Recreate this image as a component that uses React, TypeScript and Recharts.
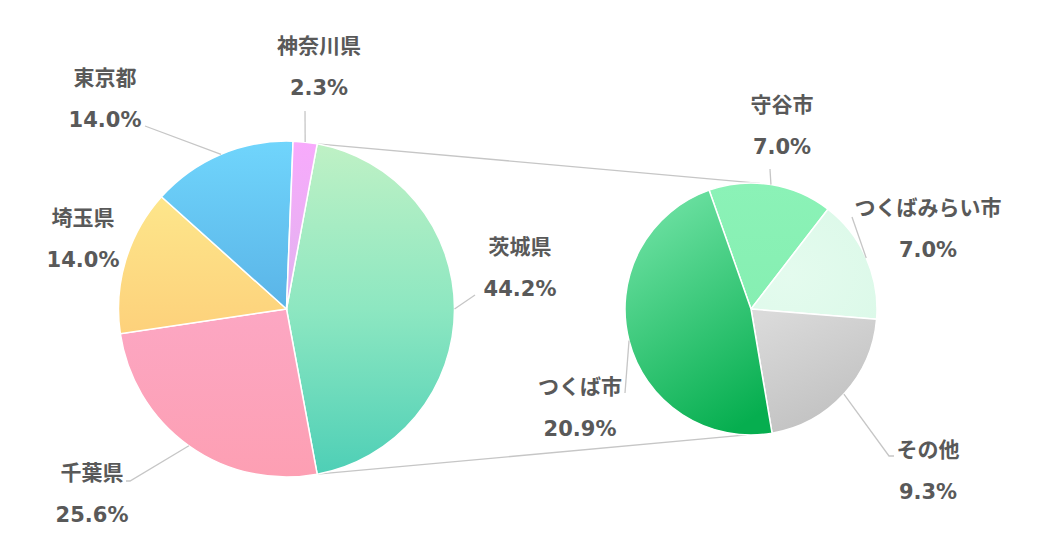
import React from 'react';
import { PieChart, Pie, Cell } from 'recharts';

// ---- data ----
const mainNames = ['茨城県', '千葉県', '埼玉県', '東京都', '神奈川県'];
const mainValues = [44.2, 25.6, 14.0, 14.0, 2.3];
const subNames = ['守谷市', 'つくばみらい市', 'その他', 'つくば市'];
const subValues = [7.0, 7.0, 9.3, 20.9];

const mainData = mainNames.map((name, i) => ({ name, value: mainValues[i] }));
const subData = subNames.map((name, i) => ({ name, value: subValues[i] }));

// ---- layout / style ----
const W = 1039;
const H = 560;
const MAIN = { cx: 286.5, cy: 309, r: 168 };
const SUB = { cx: 751, cy: 309, r: 126 };
const mainTotal = mainValues.reduce((a, b) => a + b, 0);
const mainStart = (180 * mainValues[0]) / mainTotal; // first slice centred toward the secondary pie
const subStart = 109.4;
const TEXT = '#595959';
const LINE = '#c6c6c6';
const FONT = "'DejaVu Sans', 'Noto Sans CJK JP', sans-serif";
const FS = 21;
const PCT_GAP = 42;

const mainFills = ['url(#gIbaraki)', 'url(#gChiba)', 'url(#gSaitama)', 'url(#gTokyo)', 'url(#gKanagawa)'];
const subFills = ['url(#gMoriya)', 'url(#gMirai)', 'url(#gOther)', 'url(#gTsukuba)'];

// label placement relative to each pie centre: text centre (tx, ty), leader end (lx, ly)
const mainLabelLayout = [
  { tx: 233.5, ty: -62, lx: 188.5, ly: -14 },
  { tx: -194.5, ty: 164, lx: -156.5, ly: 172, tail: -4 },
  { tx: -203.5, ty: -91, lx: null, ly: null },
  { tx: -181.5, ty: -231, lx: -141.5, ly: -183 },
  { tx: 32.5, ty: -263, lx: 18.5, ly: -198 },
];
const subLabelLayout = [
  { tx: 31, ty: -204, lx: 19, ly: -140 },
  { tx: 177, ty: -101, lx: 101, ly: -92 },
  { tx: 177, ty: 141, lx: 138, ly: 147, tail: 5 },
  { tx: -171, ty: 78, lx: -126, ly: 84 },
];

const RAD = Math.PI / 180;
const polar = (cx: number, cy: number, r: number, a: number) => ({
  x: cx + Math.cos(-a * RAD) * r,
  y: cy + Math.sin(-a * RAD) * r,
});

const makeLabel = (center: { cx: number; cy: number; r: number }, layout: any[], values: number[], names: string[]) =>
  (props: any) => {
    const { index, midAngle } = props;
    const l = layout[index];
    const tx = center.cx + l.tx;
    const ty = center.cy + l.ty;
    let path = null;
    if (l.lx !== null) {
      const p = polar(center.cx, center.cy, center.r, midAngle);
      const ex = center.cx + l.lx;
      const ey = center.cy + l.ly;
      let d = `M${p.x},${p.y}L${ex},${ey}`;
      if (l.tail) d += `L${ex + l.tail},${ey}`;
      path = <path d={d} stroke={LINE} strokeWidth={1.3} fill="none" />;
    }
    return (
      <g key={`lbl-${index}`}>
        {path}
        <text x={tx} y={ty} textAnchor="middle" dominantBaseline="central" fill={TEXT}
          fontFamily={FONT} fontWeight="bold" fontSize={FS}>{names[index]}</text>
        <text x={tx} y={ty + PCT_GAP} textAnchor="middle" dominantBaseline="central" fill={TEXT}
          fontFamily={FONT} fontWeight="bold" fontSize={FS}>{values[index].toFixed(1)}%</text>
      </g>
    );
  };

const Connectors = () => {
  const a1 = mainStart;
  const a2 = mainStart - (360 * mainValues[0]) / mainTotal;
  const p1 = polar(MAIN.cx, MAIN.cy, MAIN.r, a1);
  const p2 = polar(MAIN.cx, MAIN.cy, MAIN.r, a2);
  const q1 = polar(SUB.cx, SUB.cy, SUB.r, 86);
  const q2 = polar(SUB.cx, SUB.cy, SUB.r, 268);
  return (
    <svg width={W} height={H} style={{ position: 'absolute', left: 0, top: 0 }}>
      <line x1={p1.x} y1={p1.y} x2={q1.x} y2={q1.y} stroke={LINE} strokeWidth={1.3} />
      <line x1={p2.x} y1={p2.y} x2={q2.x} y2={q2.y} stroke={LINE} strokeWidth={1.3} />
    </svg>
  );
};

const Gradients = () => (
  <svg width={0} height={0} style={{ position: 'absolute' }}>
    <defs>
      <linearGradient id="gIbaraki" x1="0" y1="0" x2="0" y2="1">
        <stop offset="0" stopColor="#bff1c5" />
        <stop offset="0.5" stopColor="#8de7c1" />
        <stop offset="1" stopColor="#4ecfb6" />
      </linearGradient>
      <linearGradient id="gChiba" x1="0" y1="0" x2="0" y2="1">
        <stop offset="0" stopColor="#fca7c3" />
        <stop offset="1" stopColor="#fd9fb3" />
      </linearGradient>
      <linearGradient id="gSaitama" x1="0" y1="0" x2="0" y2="1">
        <stop offset="0" stopColor="#fde68b" />
        <stop offset="1" stopColor="#fdd17b" />
      </linearGradient>
      <linearGradient id="gTokyo" x1="0" y1="0" x2="0" y2="1">
        <stop offset="0" stopColor="#70d5fc" />
        <stop offset="1" stopColor="#5ab4e7" />
      </linearGradient>
      <linearGradient id="gKanagawa" x1="0" y1="0" x2="0" y2="1">
        <stop offset="0" stopColor="#f8aafc" />
        <stop offset="1" stopColor="#e0b3ee" />
      </linearGradient>
      <linearGradient id="gMoriya" x1="0" y1="0" x2="0" y2="1">
        <stop offset="0" stopColor="#8bf2b7" />
        <stop offset="1" stopColor="#86efb2" />
      </linearGradient>
      <radialGradient id="gMirai" cx="0.3" cy="0.6" r="0.8">
        <stop offset="0" stopColor="#e4fbee" />
        <stop offset="1" stopColor="#dcf9e9" />
      </radialGradient>
      <linearGradient id="gOther" x1="0.2" y1="0" x2="0.7" y2="1">
        <stop offset="0" stopColor="#dadada" />
        <stop offset="1" stopColor="#bfbfbf" />
      </linearGradient>
      <linearGradient id="gTsukuba" x1="0.3" y1="0" x2="0.7" y2="1">
        <stop offset="0" stopColor="#6fe2a4" />
        <stop offset="1" stopColor="#06ae4f" />
      </linearGradient>
    </defs>
  </svg>
);

export default function App() {
  return (
    <div style={{ position: 'absolute', left: 0, top: 0, width: W, height: H, background: '#fff' }}>
      <Gradients />
      <Connectors />
      <div style={{ position: 'absolute', left: 0, top: 0 }}>
        <PieChart width={W} height={H} margin={{ top: 0, right: 0, bottom: 0, left: 0 }}>
          <Pie
            data={mainData}
            dataKey="value"
            nameKey="name"
            cx={MAIN.cx}
            cy={MAIN.cy}
            outerRadius={MAIN.r}
            startAngle={mainStart}
            endAngle={mainStart - 360}
            isAnimationActive={false}
            label={makeLabel(MAIN, mainLabelLayout, mainValues, mainNames)}
            labelLine={false}
          >
            {mainData.map((d, i) => (
              <Cell key={d.name} fill={mainFills[i]} stroke="#ffffff" strokeWidth={1.5} />
            ))}
          </Pie>
          <Pie
            data={subData}
            dataKey="value"
            nameKey="name"
            cx={SUB.cx}
            cy={SUB.cy}
            outerRadius={SUB.r}
            startAngle={subStart}
            endAngle={subStart - 360}
            isAnimationActive={false}
            label={makeLabel(SUB, subLabelLayout, subValues, subNames)}
            labelLine={false}
          >
            {subData.map((d, i) => (
              <Cell key={d.name} fill={subFills[i]} stroke="#ffffff" strokeWidth={1.5} />
            ))}
          </Pie>
        </PieChart>
      </div>
    </div>
  );
}
